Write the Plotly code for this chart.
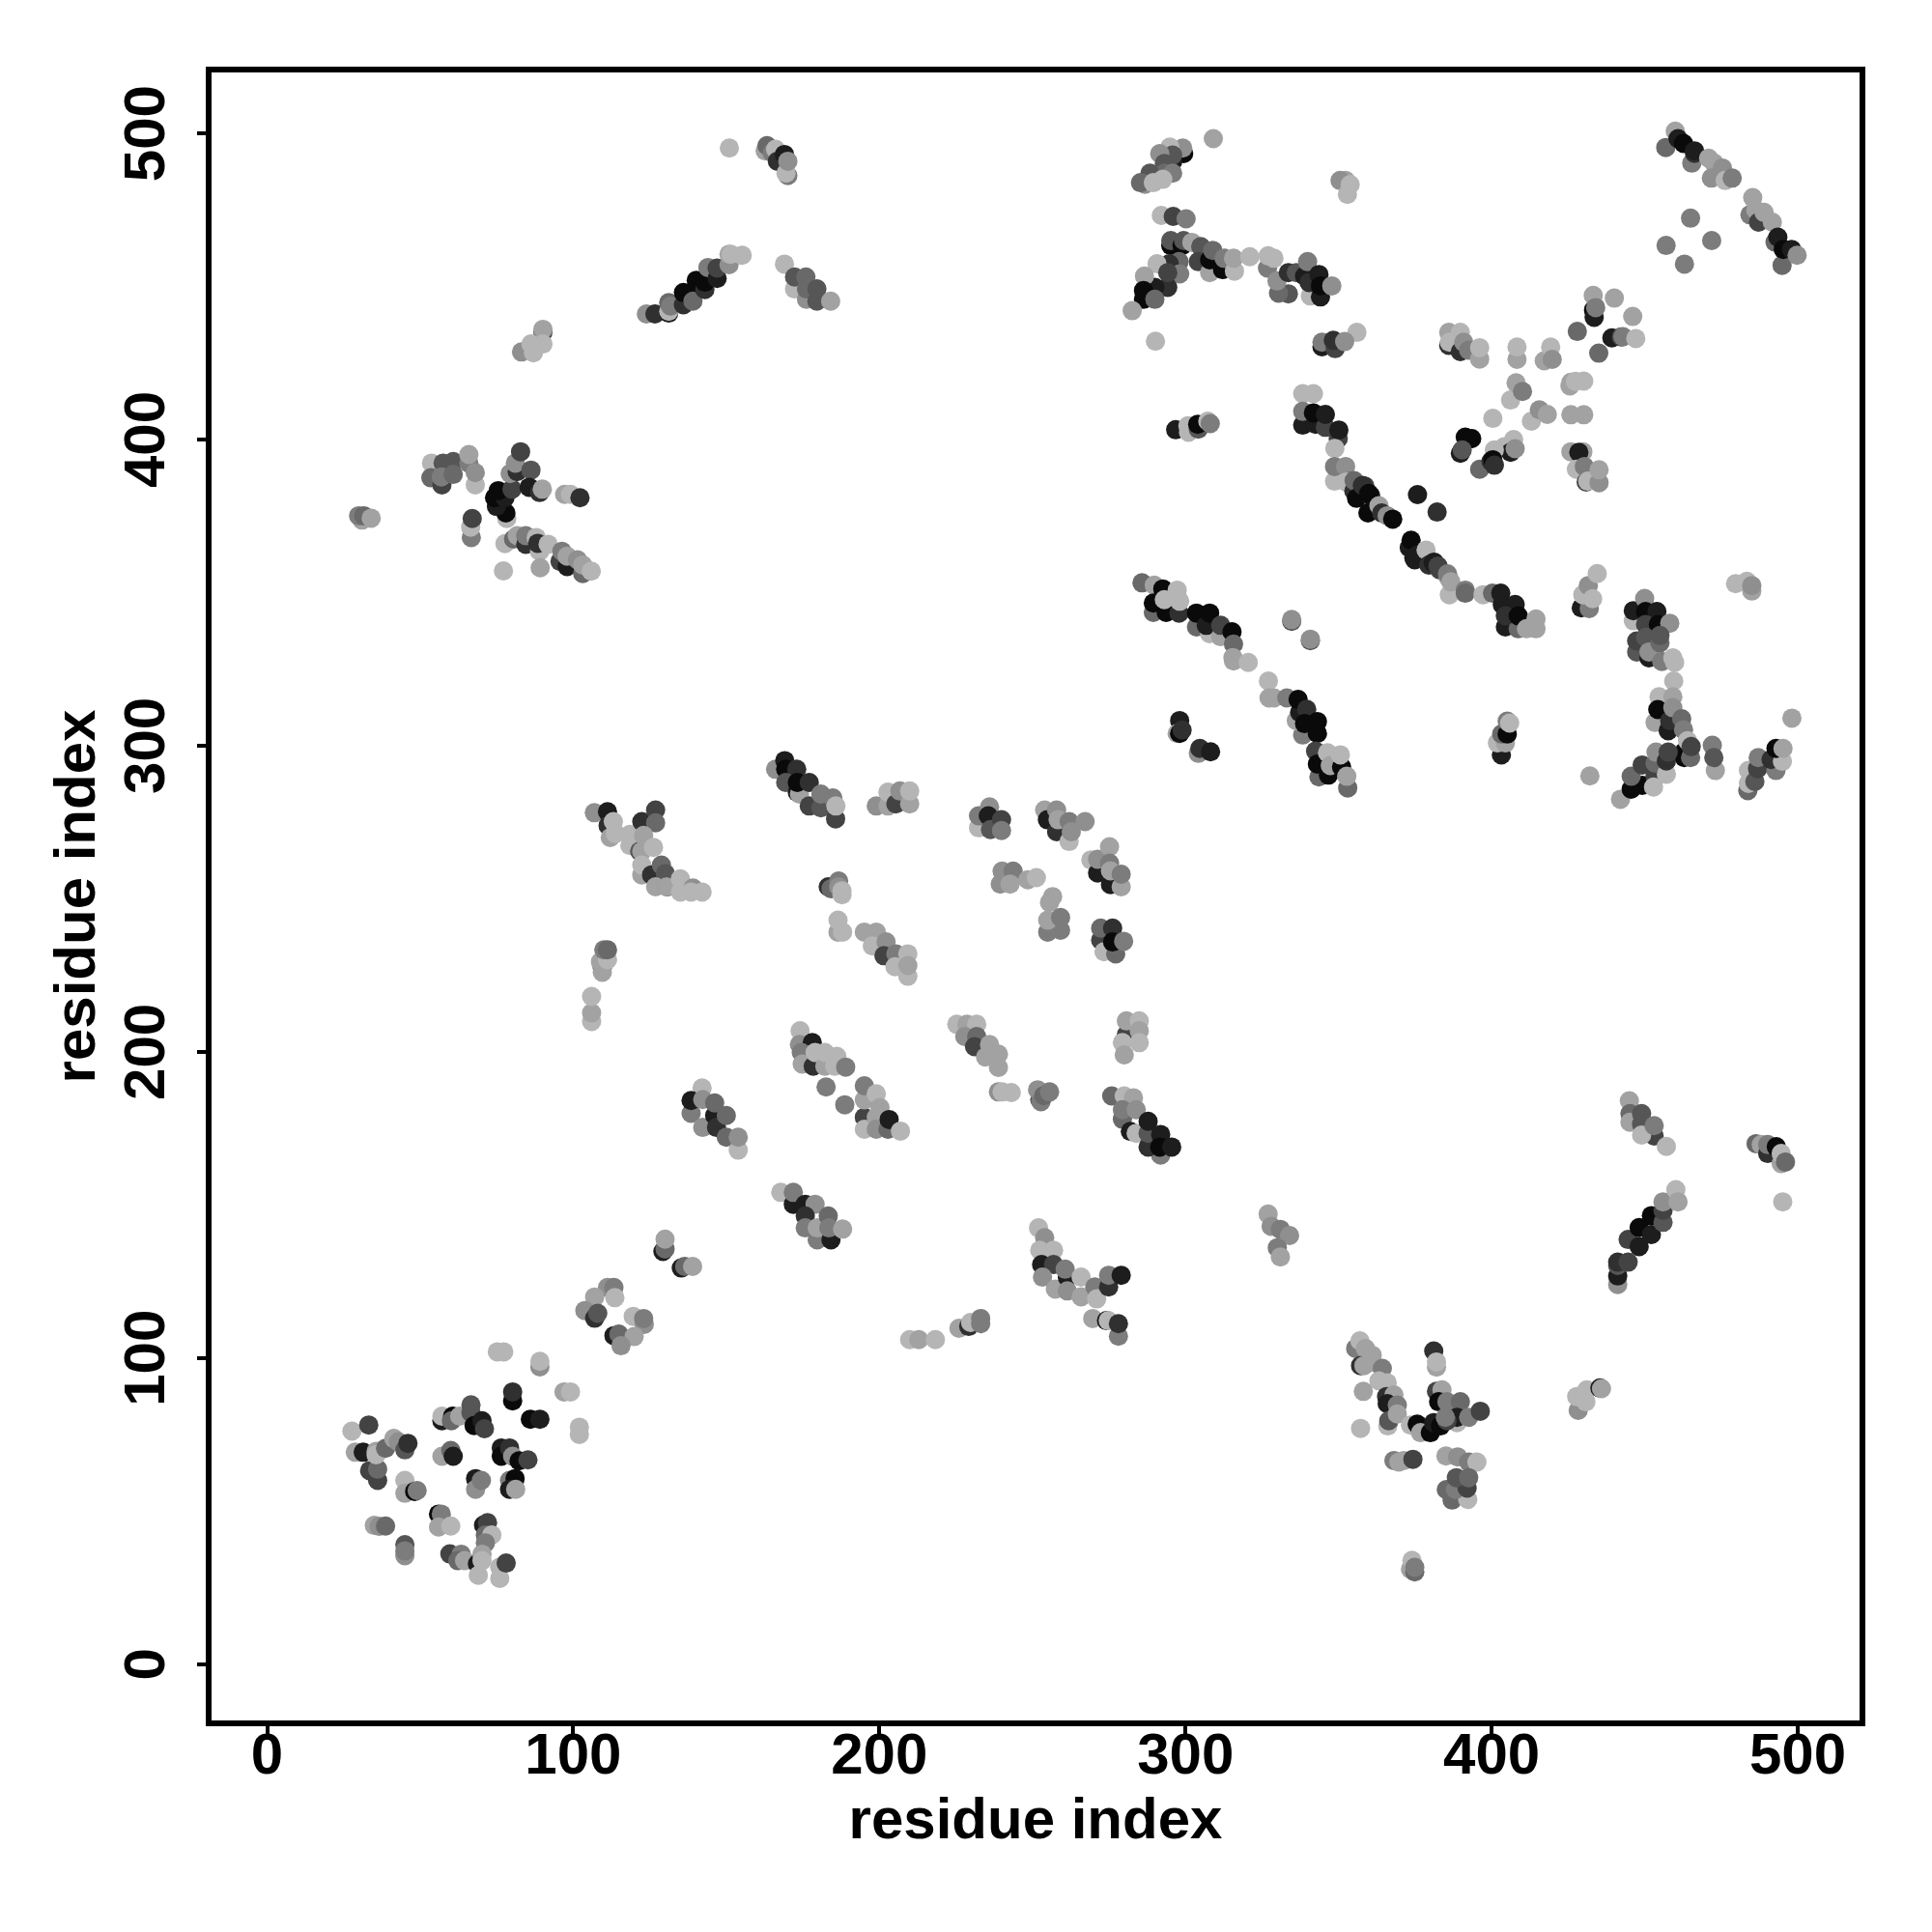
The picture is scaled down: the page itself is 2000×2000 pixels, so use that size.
import plotly.graph_objects as go

# each row: residue i, residue j, contact score level (0 strongest .. 9 weakest)
block_low_left = [
(27.7,76.1,9),(33.2,78.1,3),(28.8,69.2,8),(31.4,69.2,1),(33.5,63.2,3),(36.1,60,3),(36.1,63.7,5),(35.6,69.5,8),(35.6,68.4,9),(38.7,70.5,5),
(41.4,73.7,8),(42.9,72.6,7),(45,70,4),(46,72.1,2),(45,60,9),(45,55.8,8),(48.2,56.4,0),(49,56.7,6),(56,49,0),(56.9,49,6),(56,44.8,8),(60,45.1,9),
(35,45.3,8),(36.6,45,7),(38.7,45.1,5),(45,39,4),(45,35.4,7),(45,37,6),(59.7,36,3),(63.4,35.9,6),(62.3,33.8,5),(64.5,33.8,8),(70.7,45.4,1),(72,46.2,3),
(71.3,42.2,5),(73.4,42.2,9),(71.3,39.6,6),(68.7,32.8,1),(70.2,35.9,8),(70.2,33.8,9),(69,29,9),(76,31.7,9),(76,28,9),(78.1,33,3),
(57.1,79.5,1),(57.1,81,9),(60.6,81,0),(60.2,79.5,5),(62.9,81,8),(66.6,84.7,4),(66.6,82.1,4),(67.6,77.9,0),(70.2,79.5,1),(71,76.9,3),
(57.1,67.9,8),(60,69.8,5),(60.8,67.9,1),(68.1,60.6,1),(68.1,57.1,7),(70,60,6),(76.5,70.6,1),(76.5,67.9,0),(79.2,70.6,2),(80.2,67.9,7),(82.3,66.4,0),(85.2,66.7,3),
(79.2,60,6),(81,60.6,0),(79.2,57.1,1),(81.2,57.1,8),(80.2,86,0),(80.2,88.9,2),(86,80,0),(89.1,80,1),(75.2,102,9),(77.3,102,9),(89.1,97.1,7),(89.1,98.9,9),
(97,88.9,8),(99.1,88.9,9),(102,75,9),(102,77.4,9),
(129.3,134.8,1),(130,135.6,5),(130,138.8,8),(135.3,129.4,1),(136.4,129.9,5),(139,129.9,8),(111.2,123,7),(113.3,123,6),(107,119.9,8),(113.6,119.7,9),
(103.8,115.5,7),(107,113,2),(108,114.6,4),(119.6,113.6,9),(123.2,111,7),(123,112.9,6),(113.3,107.3,1),(114.9,107.8,5),(119.9,107,8),(115.6,104,7),
]

block_upper_left = [
(151,495.2,9),(162.7,494.3,8),(163.3,496,5),(165,493.7,6),(166.1,494.8,9),(166.7,490.9,2),(169,493.1,1),(170.1,486.2,6),(169.5,487,9),(170.1,490.9,7),
(123.9,441,7),(126.7,441,2),(131.2,441.3,1),(131.2,441.9,9),(131.2,444.7,5),(131.8,443.6,6),(136,444,2),(136,448,0),(139.1,448,0),(139.1,445.2,5),(140.2,452,0),
(143,449,2),(143,451.4,0),(144,456.2,6),(147,452.6,1),(147,456,3),(150.9,457.1,7),(150.9,460.5,8),(155.2,460.2,9),(151.5,460.5,9),
(169,457.3,9),(172.3,449.2,9),(172.3,453.1,4),(176,453.1,5),(176.2,445.8,7),(176.2,449.2,5),(179.6,445.2,4),(179.6,449.2,4),(184.1,445.2,8),
(90.1,435,3),(90.1,436,8),(90.1,431.2,9),(83.1,428.6,7),(86.2,431.2,9),(87,428.3,9),
(31,373.7,8),(29.9,375.1,6),(31.6,375.1,5),(34,374.3,8),
(53.7,392.3,9),(53.5,387.5,5),(57.1,385.2,3),(57.5,392.3,4),(56.9,387.8,6),(60.8,392.8,4),(60.8,388.6,5),(68,385.2,9),(65.9,392.3,6),(65.9,395.1,8),(68,389.2,7),
(78.3,374.2,9),(78,376,0),(74.9,378.2,1),(74.3,381,0),(77.7,381,1),(75.5,383.3,0),(80,383.8,3),(79.4,388.9,7),(81.7,389.5,2),(81.1,392.3,7),(82.8,396,3),(86.2,390,4),
(85.6,384.4,1),(89,382.7,2),(89.9,383.8,8),(97.2,382.1,8),(99.1,382.1,9),(102.2,381,2),
(66.7,368,6),(66.5,371.4,9),(67,374.2,3),
(77.7,366,9),(80.5,367.5,5),(81.7,368.6,8),(84.5,365.8,2),(84.5,368.6,6),(89,363.5,9),(87.9,368,9),(88.4,366.1,2),(91.8,365.8,9),(95.7,360.2,3),(96.3,363.5,6),(98,358.5,1),
(98,361.9,8),(101.4,360.7,7),(103.1,356.2,5),(103.1,359,8),(105.9,357,9),(77.2,357.1,9),(89.2,358.1,8),
]

block_centre_upper = [
(106.9,278.1,7),(111.2,278.4,1),(111.4,273.9,2),(112.1,270,8),(113.1,275.2,9),(113.8,271.3,9),(118.5,267.4,9),(118.5,271,9),(122.4,275.2,2),(126.9,279,3),(126.9,274.8,5),
(121.7,265.5,4),(123,270.7,8),(122.4,265.5,8),(126.2,266.8,9),(122.4,257.8,8),(122.4,261,9),(125.6,257.8,2),(128.8,261,5),(130.1,258.2,4),(126.9,253.9,8),(130.7,253.9,1),(130.5,253.9,8),
(135,252.2,9),(135,256.5,9),(139.1,253.5,7),(138.5,252.2,9),(142.1,252.2,9),
(166.1,292.3,7),(169.1,295.1,1),(169.4,292.3,0),(173,292.3,2),(169.4,288,4),(173.2,284.8,1),(173.9,284.2,8),(173.2,288,0),(177.1,288,2),(177.1,280.3,3),(180.9,279.7,4),(180.9,284.2,6),
(185.7,276.1,3),(184.8,282.9,6),(185.8,280.3,9),
(199,280.3,7),(202.8,280.3,8),(202.8,284.8,9),(205.4,281,3),(206.7,285.2,7),(209.9,281,8),(209.9,285.2,9),
(232.4,273.2,9),(232.4,277.1,6),(236,280,7),(235.6,277.1,1),(236.3,272.6,4),(239.9,275.8,3),(239.9,272.3,6),
(254,279,8),(254.9,275.8,1),(257.9,271.9,2),(257.9,279,7),(258.4,275.8,8),(262,275.2,6),(267.2,275.2,7),(262,268.7,9),(262.7,271.9,7),
(269.1,262.7,9),(271.3,258.4,1),(271.3,262.9,7),(275.2,267,8),(275.5,254.6,1),(275.2,261.6,6),(275.5,259.1,8),(279,253.9,8),(279,258,6),
(183.3,253.9,2),(184.2,253.3,5),(186.7,255.8,6),(186.7,253.9,7),(187.8,251.3,9),(187.8,252.6,9),
(186.5,239.1,8),(186.5,243,9),(188,239.1,9),(195.1,239.1,8),(199,239.1,8),(197.7,234.6,9),(202.2,235.9,7),(201.5,231.4,3),(205.4,232,6),(209.3,232,9),(205.1,227.8,9),(209.3,224.7,9),(209.3,228.2,8),
(239.5,254.8,7),(240.1,259,7),(243.7,259,6),(242.7,254.8,8),(248.5,256.2,8),(251.3,256.9,9),
(255.6,248.8,8),(256.6,250.7,8),(255,239.1,6),(259.2,239.7,6),(255,243,8),(259.2,243.9,6),
(272.3,236.5,3),(272.3,240.4,5),(276.2,240.4,2),(273.4,232.7,9),(277.2,232,5),(276.2,235.9,0),(279.8,236.1,6),
(109.5,227.5,2),(109.5,226,8),(108.9,229.4,8),(111.2,230.1,9),(110,233.3,6),(111.2,233.3,5),(106,209.9,9),(106,212.7,8),(106,218.1,9),
]

block_centre_lower = [
(174.1,206.9,9),(173.9,202.4,7),(178.1,203,1),(174.5,199.8,6),(174.8,196,8),(178.4,195.3,2),(179,199.8,9),(182.2,195.3,8),(182.2,199.8,9),(185.4,195.3,9),(186.1,198.5,9),(189,195,6),
(182.6,188.5,6),(188.7,182.7,6),
(195.1,178.6,3),(195.1,174.7,9),(195.1,184.3,8),(195.1,188.9,6),(199,186.3,9),(199,178.6,8),(200.2,181.8,8),(199,174.7,7),(202.8,174.7,5),(203.2,177.9,1),(206.9,174.1,9),
(142.1,188.2,9),(138.5,179.9,6),(138.5,184.1,1),(142.3,175.3,7),(146.2,179.2,1),(142.3,184.4,7),(146.2,183.3,5),(146.8,175.3,2),(150,179.2,5),(150,172.1,5),(153.9,167.9,9),(153.9,172.1,7),
(225.3,209,9),(228.6,209,8),(231.8,209,9),(227.9,205,7),(231.8,205,5),(231.1,201.7,3),(236,202.4,8),(234.7,198.3,8),(238.9,194.9,8),(238.9,199.2,8),
(238.9,186.9,7),(240.1,186.9,9),(243.1,186.7,9),(252.4,184.4,4),(251.7,187.6,7),(252.8,183.7,6),(253.7,185.7,5),(255.6,186.9,6),
(280.7,205.6,3),(280.7,210.1,8),(284.9,210.1,9),(284.9,206.9,8),(279.4,203,9),(284.9,203,9),(280,199,8),
(275.9,185.6,5),(280,185.6,9),(283,185,8),(279.4,178,5),(279.4,181.1,6),(283.9,181.1,7),(282,174,1),(283.9,173.4,9),(291.9,166.3,6),(287.8,168.9,2),(287.8,173.4,4),(287.8,177.3,1),(291.9,173,1),(291.6,168.9,0),(295.5,168.9,1),
(167.8,154.1,9),(171.9,150.2,1),(171.9,154.1,6),(175.8,150.2,1),(179,150.2,7),(175.8,146.4,2),(175.8,142.5,6),(179.7,138.6,6),(179.7,142.5,8),(184.2,138.6,1),(183.3,146.4,5),(183.5,142.5,6),(188,142.1,8),
(252,142.5,9),(254,139.3,7),(252.4,135.2,9),(256.9,135.2,9),(253,130.5,1),(256.9,130.5,3),(253.3,126.4,7),(257.5,122.5,8),(261.4,126.4,1),(260.7,129,6),(261.4,121.9,7),(265.9,126.4,9),(265.9,120,8),
(270.4,123.2,6),(271,119.3,9),(274.9,123.2,2),(274.9,127,6),(279,127,1),(269.7,112.9,8),(274.2,112.2,1),(274.8,112.2,9),(278.1,107.1,6),(278.1,111.2,2),
(209.9,106,9),(212.9,106,8),(218.3,106,9),(226,109.7,8),(229.2,110.3,2),(229.8,111.6,9),(233.1,111.2,6),(233.1,112.9,6),
(327,147,8),(328,143,7),(331,142,6),(334,140,7),(330,136,6),(331,133,8),
]

block_upper_middle = [
(309.1,498.3,8),(299.4,493.4,0),(299.1,495.2,7),(294.9,495.5,9),(295.8,490.7,1),(295.8,492.9,4),(291.6,493.4,7),(293.1,490.2,4),(293.1,487,5),(295.8,487,6),(288.4,487,4),(286.8,483.4,7),(285.3,483.9,5),(289.5,483.9,9),(292.6,485,9),
(292.1,473.2,9),(296,472.9,3),(300.2,472.1,6),
(295.2,463.4,0),(295.2,465,4),(298.9,463.4,0),(299.4,465,4),(302.1,464.4,8),(305,463,4),(304.2,458.1,3),(307.9,454.5,8),(307.9,458.7,0),(308.9,461.8,5),(312.1,455.5,0),(312.6,459.2,6),(316,455,9),(315.7,459.2,8),(321,459.7,9),
(326.8,456,6),(327,460,9),(328.9,459.2,9),(333.6,447.6,4),(330.4,447.8,5),(329.9,451.8,7),(333.6,454.5,2),(336.2,454.5,4),(338.9,453.4,1),(339.9,458.1,6),(340.8,446.9,9),(340.4,451.3,2),(344.1,446.6,1),(343.6,453.9,1),(344.1,450.2,0),(347.8,450.2,7),
(297.9,458.1,5),(294.7,457.4,2),(290.7,457.4,9),(298.1,454.1,6),(294.2,449.7,2),(294.2,454.5,3),(290,449.7,1),(286.6,453.4,8),(286.3,445.8,0),(286.3,448.7,0),(290,445.8,5),(282.6,442.1,8),(290.2,432.1,9),
(356,435,9),(344.6,430.3,1),(344.6,431.8,6),(348.9,429.7,3),(348.3,432.4,2),(352,432,7),
(386,430.8,2),(386,435,8),(389.8,435,9),(386.2,431.8,9),(389.8,428.7,2),(390.9,431.8,7),(392.5,429.2,6),(396.1,426.3,8),(396.1,430,9),
(296.8,403.2,1),(301,402.4,9),(300.8,404.5,9),(304.2,403.4,4),(304,405,0),(307.3,406,9),(308.1,405.2,6),
(352.3,484.6,8),(350.5,484.6,7),(352.9,480.1,9),(353.8,483.3,9),
]

block_diagonal = [
(338.3,415,9),(341.8,415,9),(338.3,404.7,1),(338.3,409.2,6),(342.5,405,1),(341.8,408.7,0),(345.7,404,3),(345.7,408.2,1),(349.9,400.3,3),(350.1,403.1,1),(348.8,397.1,9),
(348.7,386.4,9),(348.7,391.2,6),(352.3,391.2,7),(354.1,386.4,5),(352.5,386.1,9),(355,383.2,2),(355.1,386.6,5),(358.6,384.8,3),(355.9,380.8,0),(357.8,385,2),(360.5,381.6,1),(359.6,376,0),(359.9,382.4,0),(363.2,378.4,8),
(364.1,376,2),(365.9,375.1,7),(367.7,374,0),(375.8,382,1),(382.2,376.3,2),
(373.1,364.7,1),(373.7,367.1,0),(374.6,361.4,1),(374.9,360.7,1),(375.8,362.3,1),(378.6,363.9,9),(379.5,359,2),(380.9,359.8,1),(381.3,359.9,1),(382.5,358.7,3),(383.1,357.4,3),(385.8,355,8),(385.6,356.1,6),
(386.2,349.3,9),(386.7,353.5,8),(391.4,350.8,6),(391.4,349.8,5),(397.2,349.3,9),(400.3,349.8,5),(403,349.8,1),(404.5,338.8,1),(408.7,338.2,5),(403.5,346.1,1),(407.7,346.1,1),(404.5,342.4,2),(408.7,342.4,0),
(411.4,338.2,8),(414.5,338.2,8),(414.5,341.4,8),
(285.8,353.2,5),(289.8,352.4,8),(289.5,343.5,5),(289.5,346.6,0),(292.6,351.2,0),(293.7,343.5,0),(293.1,347.7,9),(297.9,343.3,2),(297.3,350.8,9),(298.1,347.2,9),
(303.6,338.8,5),(303.6,343.3,0),(307.9,336.6,9),(306.8,339.3,1),(307.9,343.3,0),(311.5,335.6,8),(311.5,339.3,3),(315.2,337.2,0),(315.7,333.2,5),(315.5,328.8,8),(315.7,327.7,8),(320.5,327.2,9),
(334.7,340.6,4),(334.7,341.2,7),(340.8,334.3,4),(340.8,334.8,7),
(327.1,321.1,9),(327.3,315.6,8),(328.9,315.6,8),(333.1,315.6,6),(338.3,303.5,6),(336.2,308.2,8),(337.3,310.9,1),(336.8,315.1,0),(339.6,311.9,2),(338.9,307.2,0),(343.1,304,0),(343.1,307.9,0),
(343.6,289.8,5),(342.5,298.2,3),(343.1,294,0),(346.7,290.4,0),(346.4,297.7,9),(347.3,293.5,8),(353,286.2,5),(351,293,0),(350.6,297,9),(352.7,290,8),
(298.1,308.2,1),(297.3,304,8),(298.1,304,0),(298.9,305.1,2),(304.2,297.5,7),(304.7,299.1,2),(308.2,298,1),
(403.2,297,1),(401.9,300.9,9),(404.5,300.9,8),(403.3,303.8,5),(405.1,303.8,0),(405.1,308,6),(405.9,307.4,9),
]

block_right = [
(457,463.4,6),(465,472.3,6),(471.9,465,6),(463,457.3,6),
(433.3,442.3,0),(433.5,439.9,1),(433.2,447.1,8),(434,443.1,6),(440.1,446.2,8),(446.1,440.2,8),(428,435.3,5),(435,428.2,5),(439.3,433.2,1),(442.4,433.5,3),(442.9,433.6,6),(447.1,433,9),
(408.3,426.2,8),(408.3,430.2,9),(417.2,425.7,8),(419.3,430.2,9),(419.8,426.2,7),(425.6,417.5,8),(425.9,418.7,8),(427.4,419,9),(430.1,419.1,9),
(406.2,412.9,9),(408,418.5,8),(410.1,415.7,6),(413,406,9),(415.6,409.7,7),(418.2,408.2,8),(425.9,408.1,8),(430.1,408.1,8),
(400.4,406.9,9),(404.1,397.6,9),(407.2,400,9),(406.2,395.8,1),(407.7,397,7),(400.9,396.6,9),(391.4,400.8,0),(393.5,400.3,0),(389.8,395.5,1),(390.4,396.6,4),(396.1,390.3,5),(399.8,392.9,2),(400.4,393.4,0),(400.9,391.6,2),
(425.9,396,8),(429.8,396,8),(428.5,395.8,1),(427.7,390.3,9),(430.3,391.2,6),(430.9,386.1,3),(431.4,386.4,9),(435.1,385.9,7),(435.1,390.1,8),
(429.3,345,1),(431.9,344.8,6),(429.8,349.3,9),(431.6,352.3,7),(433,348,9),(434.5,356.2,9),
(479.7,352.9,9),(483.4,353.7,9),(485,350.5,8),(485,352.3,7),
(446.3,340.8,9),(446.3,344.1,1),(450,348.1,7),(450.3,343.8,0),(454,343.8,1),(450.3,339.6,3),(454.5,339.6,0),(458.2,340,7),(447.4,330.6,4),(447.4,334.2,3),(450.3,335.4,4),(451.4,328.7,1),(451.4,330.6,7),(455,333.6,5),(455,336,4),(455.6,327.5,6),(459.2,328.7,9),(459.8,327.2,9),
(459.5,321.1,9),(454.7,316,9),(453.4,307.6,8),(454.3,311.8,0),(459.2,316,8),(457.7,304.9,1),(458.2,308.2,2),(459.2,312.4,7),(462.1,308.8,5),(462.7,305.2,6),
(462.9,296.1,0),(462.9,298,0),(464,301.6,9),(465,296.1,5),(465.2,299.7,3),
(442.1,282.5,8),(445.6,285.8,0),(449.2,287,0),(445.6,290,5),(449.2,293.7,3),(453.4,290,3),(452.9,286.5,9),(453.4,294.3,5),(457.1,290.7,9),(453.7,297.9,7),(457.1,295,2),(457.7,297.9,3),(432.1,290.1,8),
(473.1,291.9,8),(472.1,300.1,6),(472.6,296.1,4),(498.1,309,8),
(483.7,285.3,5),(483.9,287.7,9),(483.9,291.9,9),(486,288.3,4),(486.9,292.5,3),(487.1,296.1,6),(492.9,291.9,6),(491.3,295.5,2),(495,294.9,9),(492.9,299.1,0),(495.2,299.1,8),
(460,500.7,8),(456.9,495.4,5),(460.9,498.3,1),(462.7,496.7,0),(465.4,490.3,6),(466.3,493.5,2),(466.3,494.3,1),(470.9,491.9,8),(472.7,490.3,8),(471.8,485.4,7),(475.4,488.7,7),(476.3,484.6,9),(478.6,485.4,6),
(485.3,479,8),(484.4,473.4,6),(486.3,475,8),(487.2,471,3),(489,474.2,8),(491.7,471,8),(494.9,456.9,5),(492.6,464.5,5),(493.5,466.1,1),(495.3,462.1,0),(498,462.1,1),(499.8,460.2,7),
]

block_low_right = [
(445,184,8),(445.2,179.8,5),(445.2,177,8),(449,179.8,4),(449,176.4,4),(453.1,172.5,3),(449,172.8,9),(453.1,175.9,6),(457.1,169.1,9),
(486.4,170,5),(488.1,169.7,8),(490.2,166.8,2),(490.2,169.7,6),(493,169,0),(494.6,163.5,8),(494.6,166.8,9),(496,164,5),(495.1,151,9),
(441.2,124,7),(441.2,126.8,1),(441.2,130.2,4),(441.2,131.3,2),(444.6,131.3,3),(444.6,138.7,3),(448.2,136.4,1),(448.2,142.6,0),(452.2,140.3,1),(452.2,146.5,0),(456,144.3,4),(456,148.2,3),(456,151,7),(460.2,155,9),(460.9,151,8),
(355.6,103.1,6),(357,105.6,9),(358.8,103.1,8),(357.2,97.5,2),(358.3,97.5,8),(361,100.9,8),(361,98.6,8),(364.3,96.6,6),(363.2,92.5,9),(365.9,91.9,9),(358.1,89.1,8),(365.7,87.4,2),(368.1,87.9,8),(365.9,85.1,1),
(366.1,77.8,9),(366.4,79.5,4),(369.2,84.6,6),(369.2,81.7,8),(357.2,77,9),
(381.1,102.3,2),(382,97,8),(382,98.7,9),(382,89.1,3),(383.8,89.6,8),(382.7,85.7,0),(385.4,85.7,6),(389.8,85.7,5),(388.7,78.9,9),(388.7,80.6,1),(392.5,80.6,6),(396.3,82.6,3),
(373.5,78.1,9),(375.7,78.4,0),(376.8,75.6,8),(380,75.6,0),(381.1,78.9,1),(383.3,77.8,0),(385.4,79.5,3),(384.9,80.6,6),
(368.1,66.5,6),(369.7,66,8),(371.3,66.5,8),(374.3,66.9,3),(385.1,68,8),(388.9,67.7,7),(392.5,66,6),(395.2,66,9),
(387.1,53.6,5),(392.2,53.8,9),(385.2,57,5),(388.2,57,6),(392,57.5,3),(388.5,60.9,4),(392.5,60.9,5),
(428.3,82.9,7),(427.8,87.4,9),(431.1,89.6,9),(430.8,85.7,9),(435.4,90.2,1),(435.9,90,8),
(373.5,31,8),(374,33.9,9),(374.9,30.1,5),(374.9,31.6,6),
]

blocks = [block_low_left, block_upper_left, block_centre_upper, block_centre_lower,
          block_upper_middle, block_diagonal, block_right, block_low_right]
rows = [r for b in blocks for r in b]
res_i = [r[0] for r in rows]
res_j = [r[1] for r in rows]
level = [r[2] for r in rows]
tick_vals = [0, 100, 200, 300, 400, 500]
axis_label = "residue index"

FONT = "Liberation Sans"
fig = go.Figure(go.Scatter(
    x=res_i, y=res_j, mode="markers",
    marker=dict(size=20, color=level, cmin=0, cmax=9, showscale=False,
                colorscale=[[0, "rgb(10,10,10)"], [1, "rgb(181,181,181)"]],
                line=dict(width=0)),
    hoverinfo="skip"))

axis = dict(tickvals=tick_vals, ticks="outside", ticklen=9, tickwidth=4,
            tickcolor="black", showline=True, linewidth=5.5, linecolor="black", mirror=True,
            showgrid=False, zeroline=False, automargin=False,
            tickfont=dict(family=FONT, size=60, color="black", weight="bold"))
fig.update_xaxes(**axis, range=[-18.15, 520.2], ticklabelstandoff=-32,
                 title=dict(text="<b>%s</b>" % axis_label, standoff=12,
                            font=dict(family=FONT, size=60, color="black")))
fig.update_yaxes(**axis, range=[-18.4, 519.9], tickangle=-90, ticklabelstandoff=10, ticklabelshift=9,
                 title=dict(text="<b>%s</b>" % axis_label, standoff=0,
                            font=dict(family=FONT, size=60, color="black")))
fig.update_layout(width=1984, height=1984, autosize=False, showlegend=False,
                  paper_bgcolor="white", plot_bgcolor="white",
                  margin=dict(l=210.75, r=66.5, t=66.75, b=210.75, pad=0))
fig.write_html("out.html", config=dict(displayModeBar=False))
